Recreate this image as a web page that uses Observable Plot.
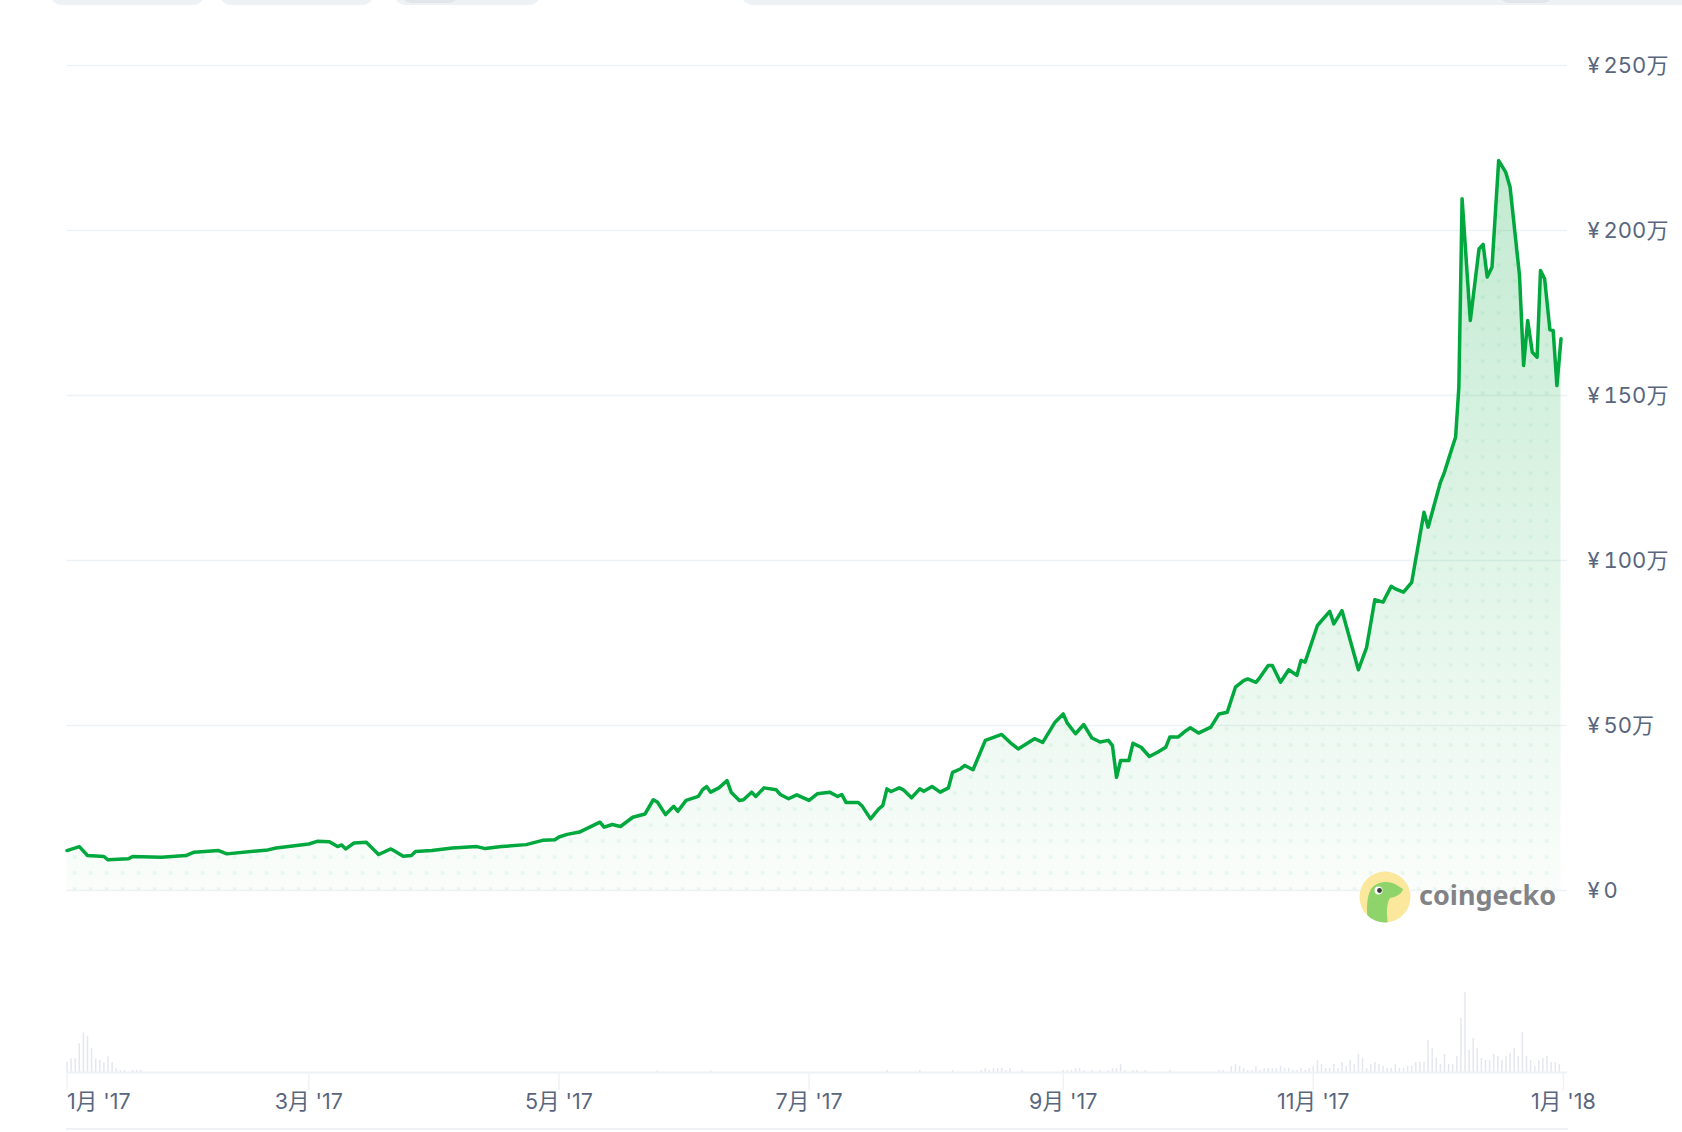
<!DOCTYPE html>
<html><head><meta charset="utf-8">
<script src="https://cdn.jsdelivr.net/npm/d3@7"></script>
<script src="https://cdn.jsdelivr.net/npm/@observablehq/plot@0.6"></script>
<style>
body{margin:0;background:#fff;}
#wrap{position:relative;width:1682px;height:1132px;overflow:hidden;background:#fff;font-family:Inter,"Noto Sans CJK JP",sans-serif;}
#wrap svg.plot, #wrap > svg{position:absolute;left:0;}
.pill{position:absolute;top:-25px;height:30px;background:#eff2f5;border-radius:10px;}
.pill.dark{background:#e2e6eb;height:28px;}
#bottomline{position:absolute;left:66px;top:1128px;width:1502px;height:2px;background:#eff2f5;}
</style></head><body>
<div id="wrap">
  <div class="pill" style="left:51px;width:153px"></div>
  <div class="pill" style="left:220px;width:153px"></div>
  <div class="pill" style="left:395px;width:145px"></div>
  <div class="pill dark" style="left:401px;width:58px"></div>
  <div class="pill" style="left:742px;width:960px"></div>
  <div class="pill dark" style="left:1499px;width:54px"></div>
  <div id="bottomline"></div>
</div>
<script>
// ---- Price (万円) ----
const priceDates = [
"2017-01-01","2017-01-04","2017-01-06","2017-01-10","2017-01-11","2017-01-16","2017-01-17","2017-01-24","2017-01-30",
"2017-02-01","2017-02-07","2017-02-09","2017-02-19","2017-02-21",
"2017-03-01","2017-03-03","2017-03-06","2017-03-08","2017-03-09","2017-03-10","2017-03-12","2017-03-15","2017-03-18","2017-03-21","2017-03-22","2017-03-24","2017-03-26","2017-03-27","2017-03-31",
"2017-04-05","2017-04-11","2017-04-13","2017-04-17","2017-04-23","2017-04-27","2017-04-30",
"2017-05-01","2017-05-03","2017-05-06","2017-05-11","2017-05-12","2017-05-14","2017-05-16","2017-05-19","2017-05-22","2017-05-24","2017-05-25","2017-05-27","2017-05-29","2017-05-30",
"2017-06-01","2017-06-04","2017-06-05","2017-06-06","2017-06-07","2017-06-09","2017-06-11","2017-06-12","2017-06-14","2017-06-15","2017-06-17","2017-06-18","2017-06-20","2017-06-23","2017-06-24","2017-06-26","2017-06-28",
"2017-07-01","2017-07-03","2017-07-06","2017-07-08","2017-07-09","2017-07-10","2017-07-13","2017-07-14","2017-07-16","2017-07-18","2017-07-19","2017-07-20","2017-07-21","2017-07-23","2017-07-24","2017-07-26","2017-07-28","2017-07-29","2017-07-31",
"2017-08-02","2017-08-04","2017-08-05","2017-08-07","2017-08-08","2017-08-10","2017-08-13","2017-08-17","2017-08-19","2017-08-21","2017-08-25","2017-08-27","2017-08-30",
"2017-09-01","2017-09-02","2017-09-04","2017-09-06","2017-09-08","2017-09-10","2017-09-12","2017-09-13","2017-09-14","2017-09-15","2017-09-17","2017-09-18","2017-09-20","2017-09-22","2017-09-24","2017-09-26","2017-09-27","2017-09-29",
"2017-10-01","2017-10-02","2017-10-04","2017-10-07","2017-10-09","2017-10-11","2017-10-13","2017-10-15","2017-10-16","2017-10-18","2017-10-19","2017-10-21","2017-10-22","2017-10-24","2017-10-26","2017-10-28","2017-10-29","2017-10-30",
"2017-11-02","2017-11-05","2017-11-06","2017-11-08","2017-11-12","2017-11-14","2017-11-16","2017-11-18","2017-11-20","2017-11-21","2017-11-23","2017-11-25","2017-11-28","2017-11-29",
"2017-12-02","2017-12-03","2017-12-04","2017-12-05T17:00Z","2017-12-06T12:00Z","2017-12-07T07:00Z","2017-12-09T07:00Z","2017-12-11T10:00Z","2017-12-12T10:00Z","2017-12-13T10:00Z","2017-12-14T14:00Z",
"2017-12-16T05:00Z","2017-12-17T22:00Z","2017-12-19T00:00Z","2017-12-21T07:00Z","2017-12-22T07:00Z","2017-12-23T07:00Z","2017-12-24T10:00Z","2017-12-25T14:00Z","2017-12-26T10:00Z","2017-12-27T10:00Z","2017-12-28T17:00Z","2017-12-29T12:00Z","2017-12-30T10:00Z","2017-12-31T10:00Z"
];
const priceValues = [
12.1,13.3,10.6,10.3,9.3,9.6,10.3,10.1,10.6,
11.6,12.1,11.1,12.3,12.9,
14.1,14.9,14.8,13.3,13.8,12.6,14.4,14.6,10.9,12.6,11.9,10.4,10.6,11.8,12.1,
12.9,13.3,12.7,13.3,13.9,15.2,15.4,
16.2,17.0,17.7,20.7,19.2,20.0,19.4,22.2,23.2,27.5,26.8,23.0,25.5,24.0,
27.3,28.5,30.5,31.5,29.8,31.1,33.3,29.8,27.3,27.5,29.8,28.5,31.1,30.5,29.1,27.8,29.0,
27.3,29.3,29.8,28.5,29.1,26.7,26.7,25.5,21.7,24.7,25.8,30.8,30.0,31.1,30.5,28.1,30.8,30.1,31.5,
29.8,31.1,35.8,36.9,37.9,36.6,45.5,47.3,44.9,42.9,46.0,44.9,51.0,
53.5,50.7,47.5,50.3,46.2,45.0,45.5,43.9,34.3,39.4,39.4,44.6,43.4,40.6,41.9,43.4,46.5,46.5,
48.5,49.3,47.7,49.5,53.5,54.0,61.6,63.6,64.1,63.1,64.6,68.2,68.2,63.1,66.9,65.2,69.7,69.2,
80.3,84.6,80.8,84.8,66.9,73.7,88.1,87.4,92.2,91.4,90.4,93.4,114.6,110.1,
123.7,126.8,130.8,137.4,152.5,209.6,172.7,194.4,195.8,185.9,188.9,
221.2,217.7,213.1,186.4,159.1,172.7,163.1,161.6,187.9,185.4,169.9,169.7,153.0,167.2
];
// ---- Volume (relative) ----
const volumeDates = [
"2017-01-01","2017-01-02","2017-01-03","2017-01-04","2017-01-05","2017-01-06","2017-01-07","2017-01-08","2017-01-09","2017-01-10","2017-01-11","2017-01-12","2017-01-13","2017-01-14","2017-01-15","2017-01-17","2017-01-18","2017-01-19",
"2017-05-25","2017-06-07","2017-07-20","2017-07-28","2017-08-05","2017-08-12","2017-08-13","2017-08-14","2017-08-15","2017-08-16","2017-08-17","2017-08-18","2017-08-19","2017-08-22",
"2017-09-01","2017-09-02","2017-09-03","2017-09-04","2017-09-05","2017-09-06","2017-09-08","2017-09-10","2017-09-12","2017-09-13","2017-09-14","2017-09-15","2017-09-16","2017-09-18","2017-09-19","2017-09-21","2017-09-27",
"2017-10-09","2017-10-10","2017-10-12","2017-10-13","2017-10-14","2017-10-15","2017-10-16","2017-10-17","2017-10-18","2017-10-19","2017-10-20","2017-10-21","2017-10-22","2017-10-23","2017-10-24","2017-10-25","2017-10-26","2017-10-27","2017-10-28","2017-10-29","2017-10-30","2017-10-31",
"2017-11-01","2017-11-02","2017-11-03","2017-11-04","2017-11-05","2017-11-06","2017-11-07","2017-11-08","2017-11-09","2017-11-10","2017-11-11","2017-11-12","2017-11-13","2017-11-14","2017-11-15","2017-11-16","2017-11-17","2017-11-18","2017-11-19","2017-11-20","2017-11-21","2017-11-22","2017-11-23","2017-11-24","2017-11-25","2017-11-26","2017-11-27","2017-11-28","2017-11-29","2017-11-30",
"2017-12-01","2017-12-02","2017-12-03","2017-12-04","2017-12-05","2017-12-06","2017-12-07","2017-12-08","2017-12-09","2017-12-10","2017-12-11","2017-12-12","2017-12-13","2017-12-14","2017-12-15","2017-12-16","2017-12-17","2017-12-18","2017-12-19","2017-12-20","2017-12-21","2017-12-22","2017-12-23","2017-12-24","2017-12-25","2017-12-26","2017-12-27","2017-12-28","2017-12-29","2017-12-30","2017-12-31"
];
const volumeValues = [
10.3,13.7,13.7,28.7,39.7,36.3,23.7,13.7,12,9.7,16,9.7,3.7,2,2,2,2,2,
1.5,1.5,2,2,2,2,4,2,4,4,4,2,4,2,
2,2,2,4,4,2,2,2,2,4,4,8,2,2,2,2,2,
2,2,6,8,6,4,2,2,6,2,4,4,4,4,6,4,4,2,2,4,2,4,
6,12,8,4,4,8,4,10,6,12,8,18,14,4,8,10,8,6,4,4,8,4,4,6,6,10,10,10,32,24,
14,8,18,8,8,16,54,80,22,34,24,14,12,12,18,16,12,16,19,24,16,40,16,12,6,12,14,16,10,10,8
];
// ---- Axes ----
const xTickDates = ["2017-01-01","2017-03-01","2017-05-01","2017-07-01","2017-09-01","2017-11-01","2018-01-01"];
const xTickLabels = ["1月 '17","3月 '17","5月 '17","7月 '17","9月 '17","11月 '17","1月 '18"];
const yTicks = [0,50,100,150,200,250];

const price = priceDates.map((d,i)=>({date:new Date(d), value:priceValues[i]}));
const volume = volumeDates.map((d,i)=>({date:new Date(d), value:volumeValues[i]}));
const xticks = xTickDates.map((d,i)=>({date:new Date(d), label:xTickLabels[i]}));
const xDomain = [new Date("2017-01-01"), new Date("2018-01-02")];
const FONT = "Inter, 'Noto Sans CJK JP', sans-serif";
const LABEL = "#58667e";
const GREEN = "#00a83e";

const pricePlot = Plot.plot({
  width:1682, height:900, marginTop:65, marginBottom:10, marginLeft:66.5, marginRight:115,
  style:{fontFamily:FONT, background:"transparent", overflow:"visible"},
  x:{type:"utc", domain:xDomain, axis:null},
  y:{domain:[0,250], axis:null},
  marks:[
    Plot.gridY(yTicks,{stroke:"#eff2f5", strokeOpacity:1, strokeWidth:1.5}),
    Plot.areaY(price,{x:"date", y:"value", fill:"url(#cgFill)"}),
    Plot.areaY(price,{x:"date", y:"value", fill:"url(#cgDots)"}),
    Plot.lineY(price,{x:"date", y:"value", stroke:GREEN, strokeWidth:3.5, strokeLinejoin:"round", strokeLinecap:"round"}),
    Plot.axisY(yTicks,{anchor:"right", label:null, tickSize:0, tickPadding:20, fontSize:22, fill:LABEL,
      tickFormat:d => d === 0 ? "¥\u20090" : `¥\u2009${d}万`})
  ]
});
pricePlot.style.top = "0px";

// gradient + dot pattern defs
const ys = pricePlot.scale("y");
const yTop = ys.apply(d3.max(priceValues)), yBot = ys.apply(0);
const ns = "http://www.w3.org/2000/svg";
const defs = document.createElementNS(ns, "defs");
defs.innerHTML = `
<linearGradient id="cgFill" gradientUnits="userSpaceOnUse" x1="0" y1="${yTop}" x2="0" y2="${yBot}">
  <stop offset="0" stop-color="${GREEN}" stop-opacity="0.24"/>
  <stop offset="1" stop-color="${GREEN}" stop-opacity="0.02"/>
</linearGradient>
<pattern id="cgDots" patternUnits="userSpaceOnUse" x="2.7" y="1" width="16" height="16">
  <circle cx="8" cy="8" r="2" fill="${GREEN}" fill-opacity="0.07"/>
</pattern>`;
pricePlot.insertBefore(defs, pricePlot.firstChild);

const volPlot = Plot.plot({
  width:1682, height:172, marginTop:12, marginBottom:60, marginLeft:66.5, marginRight:115,
  style:{fontFamily:FONT, background:"transparent", overflow:"visible"},
  x:{type:"utc", domain:xDomain, axis:null},
  y:{domain:[0,100], axis:null},
  marks:[
    Plot.ruleX(volume,{x:"date", y1:0, y2:"value", stroke:"#e4e7ef", strokeWidth:1.5}),
    Plot.ruleY([0],{stroke:"#eff2f5", strokeWidth:2}),
    Plot.ruleX(xticks,{x:"date", y1:0, y2:-18, stroke:"#eff2f5", strokeWidth:1.5}),
    Plot.text(xticks.slice(0,1),{x:"date", y:0, dy:30, text:"label", textAnchor:"start", fontSize:21.5, fill:LABEL}),
    Plot.text(xticks.slice(1),{x:"date", y:0, dy:30, text:"label", textAnchor:"middle", fontSize:21.5, fill:LABEL})
  ]
});
volPlot.style.top = "960px";

const wrap = document.getElementById("wrap");
wrap.appendChild(pricePlot);
wrap.appendChild(volPlot);

// coingecko watermark
const wm = document.createElementNS(ns, "svg");
wm.setAttribute("width", 1682); wm.setAttribute("height", 1132);
wm.style.position = "absolute"; wm.style.left = "0"; wm.style.top = "0"; wm.style.pointerEvents = "none";
wm.innerHTML = `
<defs><clipPath id="logoClip"><circle cx="1385" cy="897" r="25.5"/></clipPath></defs>
<circle cx="1385" cy="897" r="25.5" fill="#fbe89c"/>
<g clip-path="url(#logoClip)">
  <path d="M1369,925 C1366,912 1366,898 1371,889 C1376,882 1387,880 1395,884 L1403,889 C1402,894 1396,897 1390,898 C1387,903 1386,910 1388,925 Z" fill="#8fd46a"/>
</g>
<circle cx="1378.5" cy="890.5" r="4" fill="#ffffff"/>
<circle cx="1379.5" cy="890.5" r="2.4" fill="#3b3b3b"/>
<text x="1419" y="905" font-family="'Noto Sans', sans-serif" font-weight="700" font-size="27" fill="#818386">coingecko</text>`;
wrap.appendChild(wm);
</script>
</body></html>
